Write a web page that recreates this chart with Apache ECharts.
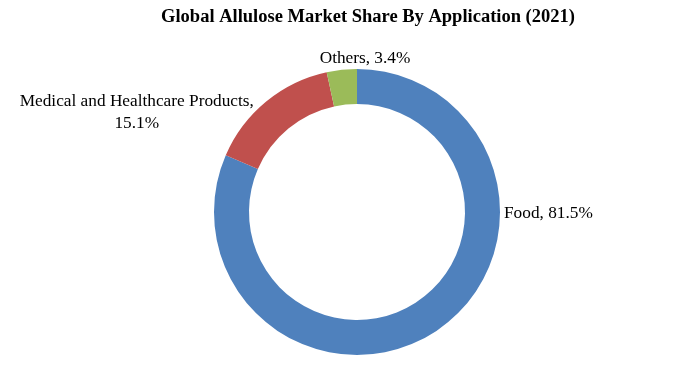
<!DOCTYPE html>
<html>
<head>
<meta charset="utf-8">
<script src="https://cdn.jsdelivr.net/npm/echarts@6/dist/echarts.min.js"></script>
<style>
html,body{margin:0;padding:0;background:#fff;}
#chart{width:700px;height:368px;}
</style>
</head>
<body>
<div id="chart"></div>
<script>
var titleText = 'Global Allulose Market Share By Application (2021)';
var categories = ['Food', 'Medical and Healthcare Products', 'Others'];
var values = [81.5, 15.1, 3.4];
var colors = ['#4F81BD', '#C0504D', '#9BBB59'];

var chart = echarts.init(document.getElementById('chart'));
var font = '"Liberation Serif", "Times New Roman", serif';

function labelFor(name, v) {
  return name + ', ' + v.toFixed(1) + '%';
}

var option = {
  backgroundColor: '#ffffff',
  animation: false,
  title: {
    text: titleText,
    left: 363,
    textAlign: 'center',
    top: 3,
    textStyle: { fontFamily: font, fontSize: 18.5, fontWeight: 'bold', color: '#000' }
  },
  series: [{
    type: 'pie',
    center: [357, 212],
    radius: [108, 143],
    startAngle: 90,
    clockwise: true,
    avoidLabelOverlap: false,
    itemStyle: { borderWidth: 0 },
    labelLine: { show: false },
    label: {
      show: true,
      position: 'outside',
      fontFamily: font,
      fontSize: 17.3,
      color: '#000',
      lineHeight: 22,
      formatter: function (p) {
        if (p.dataIndex === 1) return 'Medical and Healthcare Products,\n' + p.value.toFixed(1) + '%';
        return labelFor(p.name, p.value);
      }
    },
    labelLayout: function (p) {
      var r = p.rect;
      if (p.dataIndex === 0) {
        return { x: r.x + r.width + 4, y: r.y + r.height / 2 + 1, align: 'left', verticalAlign: 'middle' };
      } else if (p.dataIndex === 1) {
        return { x: r.x - 89, y: r.y + 40, align: 'center', verticalAlign: 'middle' };
      } else {
        return { x: r.x + r.width + 8, y: r.y - 11, align: 'center', verticalAlign: 'middle' };
      }
    },
    data: categories.map(function (c, i) {
      return { name: c, value: values[i], itemStyle: { color: colors[i] } };
    })
  }]
};
chart.setOption(option);
</script>
</body>
</html>
